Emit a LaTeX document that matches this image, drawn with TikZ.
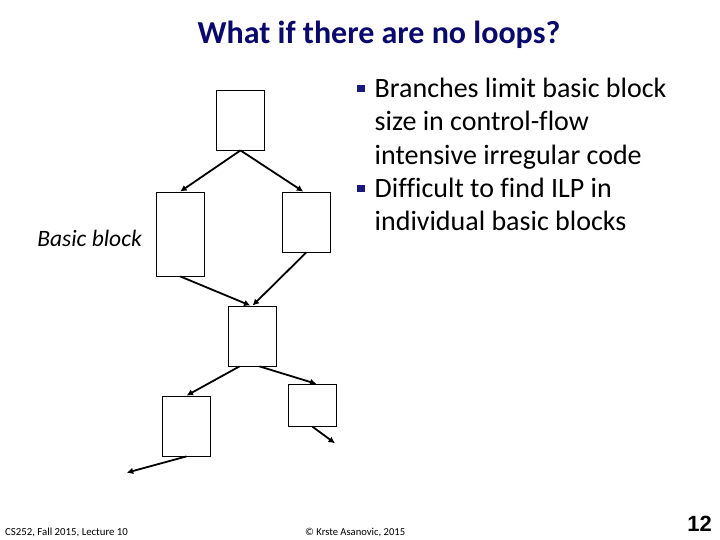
\documentclass[tikz,border=0pt]{standalone}
\usepackage{fontspec}
\setmainfont{Carlito}[Ligatures=NoCommon]
\newfontfamily\numfont{Liberation Sans}
\usetikzlibrary{arrows.meta}
\definecolor{titleblue}{RGB}{10,10,110}
\definecolor{bulletblue}{RGB}{25,25,130}

\begin{document}
\begin{tikzpicture}[x=1pt,y=-1pt,
    blk/.style={draw,line width=0.8pt,inner sep=0pt,minimum width=48pt},
    flow/.style={line width=1.8pt,-{Latex[length=6.5pt,width=6.5pt]}},
    txt/.style={anchor=base west,inner sep=0pt,font=\fontsize{28}{33}\selectfont}]
    \useasboundingbox (0,0) rectangle (720,540);

    % Title
    \node[anchor=base,text=titleblue,font=\fontsize{32}{38}\selectfont\bfseries] (title) at (379,43.5) {What if there are no loops?};

    % Blocks
    \node[blk,minimum height=60pt] (b1) at (240.5,120) {};
    \node[blk,minimum height=84pt] (b2) at (180.2,234) {};
    \node[blk,minimum height=60pt] (b3) at (306.3,222) {};
    \node[blk,minimum height=60pt] (b4) at (252.5,336) {};
    \node[blk,minimum height=60pt] (b5) at (186.5,426) {};
    \node[blk,minimum height=42pt] (b6) at (312.5,405.3) {};
    \coordinate (out1) at (126.7,472.7);
    \coordinate (out2) at (335,443.3);

    % Label
    \node[anchor=base east,inner sep=0pt,font=\fontsize{23.5}{28}\selectfont\itshape] (lbl) at (142,246) {Basic block};

    % Edges
    \draw[flow] (b1.south) -- (b2.north);
    \draw[flow] (b1.south) -- ([xshift=-3pt]b3.north);
    \draw[flow] (b2.south) -- ([xshift=-2pt]b4.north);
    \draw[flow] (b3.south) -- (b4.north);
    \draw[flow] ([xshift=-13pt]b4.south) -- (b5.north);
    \draw[flow] ([xshift=7pt]b4.south) -- ([xshift=4pt]b6.north);
    \draw[flow] (b5.south) -- (out1);
    \draw[flow] (b6.south) -- (out2);

    % Bullets
    \foreach \y/\name in {88.5/sq1,188.5/sq2}
        \node[fill=bulletblue,inner sep=0pt,minimum size=7.5pt] (\name) at (361,\y) {};
    \foreach \y/\name/\line in {97.5/l1/Branches limit basic block,130.8/l2/size in control-flow,164.1/l3/intensive irregular code,197.5/l4/Difficult to find ILP in,230.8/l5/individual basic blocks}
        \node[txt] (\name) at (374.5,\y) {\line};

    % Footer
    \node[anchor=base west,inner sep=0pt,font=\fontsize{10.8}{12}\selectfont] (foot1) at (5,535.5) {CS252, Fall 2015, Lecture 10};
    \node[anchor=base west,inner sep=0pt,font=\fontsize{10.6}{12}\selectfont] (foot2) at (305,535.5) {© Krste Asanovic, 2015};
    \node[anchor=base east,inner sep=0pt,font=\numfont\fontsize{22}{26}\selectfont\bfseries] (page) at (712,531) {12};
\end{tikzpicture}
\end{document}
